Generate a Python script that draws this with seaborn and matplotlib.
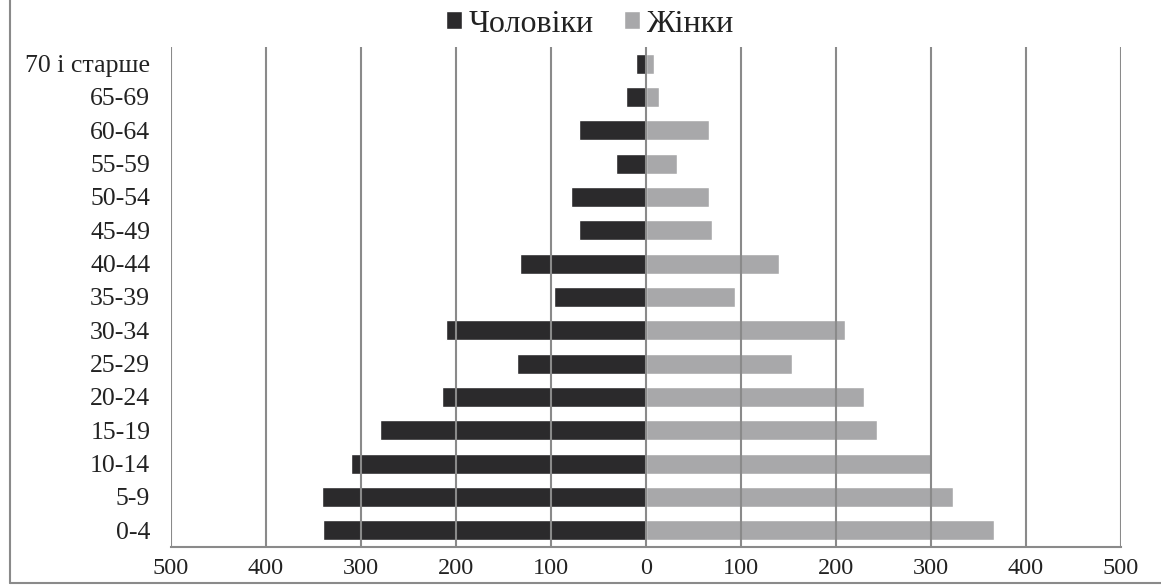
import seaborn as sns
import matplotlib.pyplot as plt
import pandas as pd
from matplotlib.patches import Patch
from matplotlib.lines import Line2D

# вікові групи, зверху вниз
ages = ['70 і старше', '65-69', '60-64', '55-59', '50-54', '45-49', '40-44', '35-39',
        '30-34', '25-29', '20-24', '15-19', '10-14', '5-9', '0-4']
men = [10, 21, 70, 32, 79, 71, 133, 97, 211, 136, 215, 280, 311, 341, 340]
women = [8, 14, 66, 33, 66, 70, 140, 94, 210, 154, 230, 243, 300, 323, 366]
xticks = [-500, -400, -300, -200, -100, 0, 100, 200, 300, 400, 500]

sns.set_style('white')
plt.rcParams['font.family'] = ['Liberation Serif', 'DejaVu Serif']

df = pd.DataFrame({
    'age': ages * 2,
    'value': [-v for v in men] + women,
    'sex': ['Чоловіки'] * len(ages) + ['Жінки'] * len(ages),
})

colors = {'Чоловіки': '#2b2a2c', 'Жінки': '#a8a8aa'}

fig = plt.figure(figsize=(11.61, 5.86), dpi=100)
ax = fig.add_axes([0.1473, 0.0666, 0.8182, 0.8532])

sns.barplot(data=df, x='value', y='age', hue='sex', order=ages, orient='h',
            dodge=False, palette=colors, width=0.6, legend=False, ax=ax,
            saturation=1)

ax.set_xlim(-500, 500)
ax.set_ylim(14.5, -0.5)
ax.set_xticks(xticks)
ax.set_xticklabels([str(abs(t)) for t in xticks])
ax.set_xlabel('')
ax.set_ylabel('')
ax.xaxis.grid(True, color='#8a8a8a', linewidth=1.5)
ax.set_axisbelow(False)
for line in ax.get_xgridlines():
    line.set_zorder(0.5)
ax.tick_params(axis='y', length=0, pad=15, labelsize=18.5, labelcolor='#222222')
ax.tick_params(axis='x', length=0, pad=8, labelsize=17.5, labelcolor='#222222')

for side in ['top', 'right', 'left']:
    ax.spines[side].set_visible(False)
ax.spines['bottom'].set_color('#8a8a8a')
ax.spines['bottom'].set_linewidth(1.5)

handles = [Patch(facecolor=colors[k], label=k) for k in ['Чоловіки', 'Жінки']]
fig.legend(handles=handles, loc='center', bbox_to_anchor=(590 / 1161, 1 - 24 / 586),
           ncol=2, frameon=False, fontsize=23, handlelength=0.5, handleheight=0.5,
           handletextpad=0.2, columnspacing=0.95, labelcolor='#222222',
           borderpad=0, borderaxespad=0)

# рамка області діаграми (ліва та нижня)
fig.add_artist(Line2D([10 / 1161, 10 / 1161], [1, 1 - 583 / 586],
                      transform=fig.transFigure, color='#8a8a8a', linewidth=1.5))
fig.add_artist(Line2D([10 / 1161, 1], [1 - 583 / 586, 1 - 583 / 586],
                      transform=fig.transFigure, color='#8a8a8a', linewidth=1.5))

plt.savefig('out.png', dpi=100)
plt.close()
